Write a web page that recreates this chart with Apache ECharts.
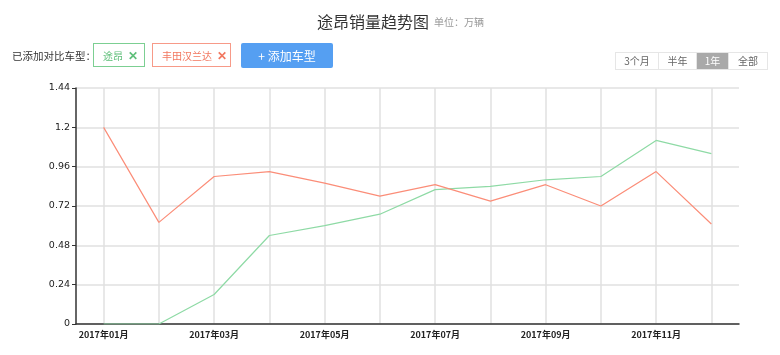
<!DOCTYPE html>
<html>
<head>
<meta charset="utf-8">
<script src="https://cdn.jsdelivr.net/npm/echarts@6/dist/echarts.min.js"></script>
<style>
  body { margin: 0; background: #fff; font-family: 'Noto Sans CJK SC', sans-serif; }
  #wrap { position: relative; width: 780px; height: 355px; }
  #chart { position: absolute; left: 0; top: 0; width: 780px; height: 355px; }
  .lbl { position: absolute; left: 12px; top: 48px; font-size: 10.5px; color: #333; line-height: 16px; white-space: nowrap; }
  .tag { position: absolute; top: 43px; height: 22px; border: 1px solid; font-size: 10px; line-height: 22px; white-space: nowrap; }
  .tag .t { margin-left: 9px; }
  .tag .x { font-size: 12px; font-weight: bold; margin-left: 5px; }
  .green { left: 93px; width: 50px; border-color: #7ccf92; color: #5fbf7a; }
  .red { left: 152px; width: 77px; border-color: #f79a88; color: #f2775f; }
  .add { position: absolute; left: 241px; top: 43px; width: 92px; height: 25px; background: #559ff2; color: #fff; font-size: 12px; line-height: 25px; text-align: center; border-radius: 2px; }
  .range { position: absolute; left: 615px; top: 52px; height: 16px; display: flex; border: 1px solid #e6e6e6; }
  .range div { font-size: 10px; color: #666; line-height: 16px; text-align: center; border-left: 1px solid #e6e6e6; }
  .range div:first-child { border-left: none; }
  .range .on { background: #a9a9a9; color: #fff; }
</style>
</head>
<body>
<div id="wrap">
  <div id="chart"></div>
  <div class="lbl">已添加对比车型：</div>
  <div class="tag green"><span class="t">途昂</span><span class="x">✕</span></div>
  <div class="tag red"><span class="t">丰田汉兰达</span><span class="x">✕</span></div>
  <div class="add">+ 添加车型</div>
  <div class="range">
    <div style="width:42px">3个月</div>
    <div style="width:37px">半年</div>
    <div class="on" style="width:31px">1年</div>
    <div style="width:38px">全部</div>
  </div>
</div>
<script>
const months = ['2017年01月', '2017年02月', '2017年03月', '2017年04月', '2017年05月', '2017年06月',
    '2017年07月', '2017年08月', '2017年09月', '2017年10月', '2017年11月', '2017年12月']
const tuang = [0, 0, 0.18, 0.54, 0.60, 0.67, 0.82, 0.84, 0.88, 0.90, 1.12, 1.04]
const highlander = [1.2, 0.62, 0.90, 0.93, 0.86, 0.78, 0.85, 0.75, 0.85, 0.72, 0.93, 0.61]

const myChart = echarts.init(document.getElementById('chart'))

const option = {
    animation: false,
    title: {
        text: '{a|途昂销量趋势图} {b|单位：万辆}',
        left: 312,
        top: 8,
        textStyle: {
            fontWeight: 'normal',
            rich: {
                a: { fontSize: 16, color: '#333', fontWeight: 'normal', fontFamily: 'Noto Sans CJK SC' },
                b: { fontSize: 10, color: '#999', fontWeight: 'normal', fontFamily: 'Noto Sans CJK SC' }
            }
        }
    },
    grid: { left: 76, right: 41, top: 88, bottom: 31, containLabel: false },
    xAxis: {
        type: 'category',
        data: months,
        boundaryGap: true,
        axisLine: { lineStyle: { color: '#333', width: 1.5 } },
        axisTick: { alignWithLabel: true, interval: 0, length: 5, lineStyle: { color: '#333' } },
        axisLabel: { interval: 1, fontSize: 9, color: '#222', fontWeight: 'bold', fontFamily: 'Noto Sans CJK SC', margin: 6 },
        splitLine: { show: true, alignWithLabel: true, interval: 0, lineStyle: { color: '#e0e0e0', width: 1.5 } }
    },
    yAxis: {
        type: 'value',
        min: 0,
        max: 1.44,
        interval: 0.24,
        axisLine: { show: true, lineStyle: { color: '#333', width: 1.5 } },
        axisTick: { show: true, length: 4, lineStyle: { color: '#333' } },
        axisLabel: { fontSize: 9.5, color: '#222', fontFamily: 'DejaVu Sans', margin: 6 },
        splitLine: { lineStyle: { color: '#e0e0e0', width: 1.5 } }
    },
    series: [
        {
            name: '途昂',
            type: 'line',
            data: tuang,
            symbol: 'none',
            lineStyle: { color: '#8edaa5', width: 1.2 },
            itemStyle: { color: '#8edaa5' }
        },
        {
            name: '丰田汉兰达',
            type: 'line',
            data: highlander,
            symbol: 'none',
            lineStyle: { color: '#fb8d78', width: 1.2 },
            itemStyle: { color: '#fb8d78' }
        }
    ]
}
myChart.setOption(option)
</script>
</body>
</html>
